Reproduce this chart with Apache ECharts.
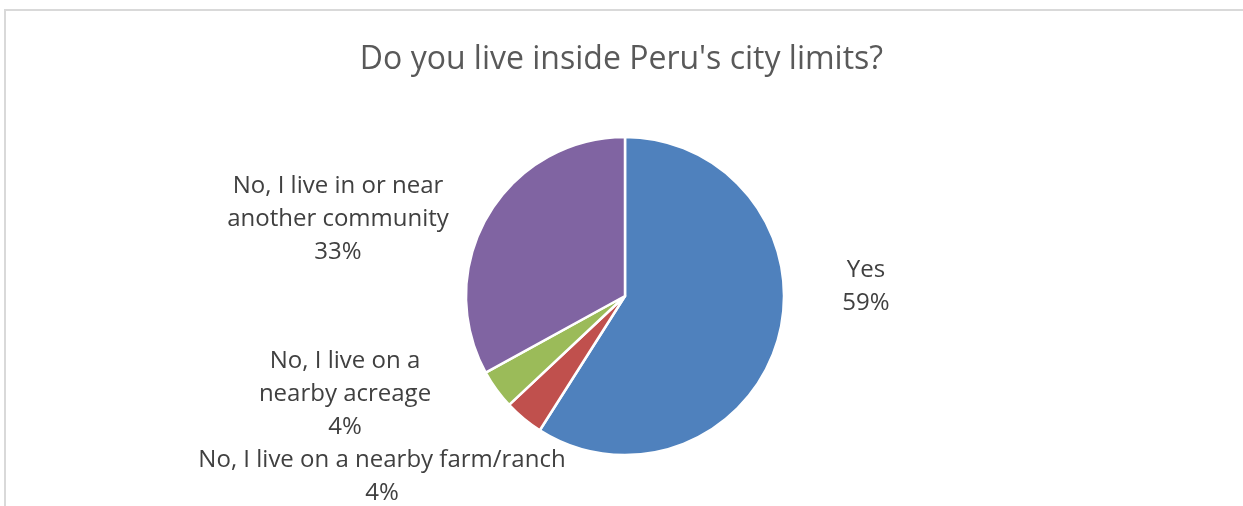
<!DOCTYPE html>
<html>
<head>
<meta charset="utf-8">
<script src="https://cdn.jsdelivr.net/npm/echarts@6/dist/echarts.min.js"></script>
<style>
  html, body { margin: 0; padding: 0; background: #fff; }
  #main { width: 1243px; height: 506px; }
</style>
</head>
<body>
<div id="main"></div>
<script>
const chartDom = document.getElementById('main')
const myChart = echarts.init(chartDom)

const title = "Do you live inside Peru's city limits?"
const categories = [
    'Yes',
    'No, I live on a nearby farm/ranch',
    'No, I live on a\nnearby acreage',
    'No, I live in or near\nanother community'
]
const values = [59, 4, 4, 33]
const colors = ['#4f81bd', '#c0504d', '#9bbb59', '#8064a2']

// label centres, one per slice
const labelPos = [[866, 287], [382, 477], [345, 394], [338, 219]]

const font = '"Open Sans", "Noto Sans", sans-serif'

const option = {
    animation: false,
    title: {
        text: title,
        left: 'center',
        top: 39,
        textStyle: {
            fontFamily: font,
            fontSize: 32,
            fontWeight: 'normal',
            color: '#595959'
        }
    },
    graphic: [
        {
            type: 'rect',
            shape: { x: 5, y: 10, width: 1400, height: 700 },
            style: { fill: 'none', stroke: '#d9d9d9', lineWidth: 2 }
        }
    ],
    series: [
        {
            type: 'pie',
            center: [625, 296],
            radius: 159,
            startAngle: 90,
            clockwise: true,
            data: categories.map((name, i) => ({
                name,
                value: values[i],
                itemStyle: { color: colors[i] }
            })),
            itemStyle: {
                borderColor: '#fff',
                borderWidth: 2.5
            },
            label: {
                show: true,
                position: 'outside',
                formatter: p => p.name + '\n' + p.percent.toFixed(0) + '%',
                fontFamily: font,
                fontSize: 24,
                lineHeight: 33,
                color: '#404040',
                align: 'center'
            },
            labelLine: { show: false },
            labelLayout: params => ({
                x: labelPos[params.dataIndex][0],
                y: labelPos[params.dataIndex][1],
                align: 'center',
                verticalAlign: 'middle'
            })
        }
    ]
}

myChart.setOption(option)
</script>
</body>
</html>
